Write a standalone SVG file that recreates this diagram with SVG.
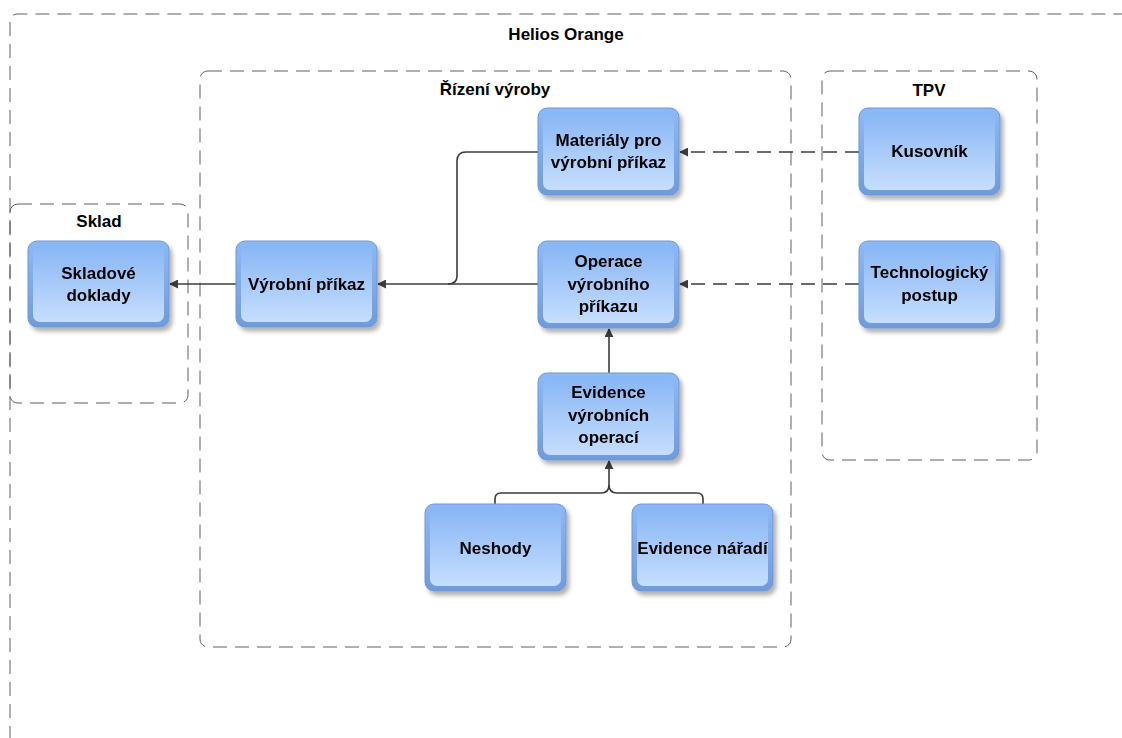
<svg xmlns="http://www.w3.org/2000/svg" width="1122" height="738" viewBox="0 0 1122 738">
<defs>
<linearGradient id="face" x1="0" y1="0" x2="0" y2="1">
<stop offset="0" stop-color="#88b6f5"/>
<stop offset="1" stop-color="#c6defd"/>
</linearGradient>
<linearGradient id="rim" x1="0" y1="0" x2="0" y2="1">
<stop offset="0" stop-color="#8dbaf6"/>
<stop offset="1" stop-color="#6f9bdb"/>
</linearGradient>
<filter id="sh" x="-10%" y="-10%" width="130%" height="140%">
<feDropShadow dx="3" dy="4" stdDeviation="2.2" flood-color="#000" flood-opacity="0.3"/>
</filter>
<marker id="ah" viewBox="0 0 10 10" refX="9" refY="5" markerWidth="9" markerHeight="9" markerUnits="userSpaceOnUse" orient="auto">
<path d="M0,0 L10,5 L0,10 z" fill="#3c3c3c"/>
</marker>
</defs>
<style>
.cont{fill:none;stroke:#606060;stroke-width:1;stroke-dasharray:14 8}
.ctitle{font-family:"Liberation Sans",Arial,sans-serif;font-weight:bold;font-size:17px;fill:#000;text-anchor:middle}
.rim{fill:url(#rim);stroke:#6e97d3;stroke-width:1}
.face{fill:url(#face)}
.lbl{font-family:"Liberation Sans",Arial,sans-serif;font-weight:bold;font-size:17px;fill:#000;text-anchor:middle}
.con{fill:none;stroke:#3c3c3c;stroke-width:1.6}
.dash{stroke-dasharray:14 8}
</style>
<rect width="1122" height="738" fill="#fff"/>

<g id="helios-orange">
<path class="cont" d="M10,740 V22 Q10,14 18,14 H1130"/>
<text class="ctitle" x="566" y="40">Helios Orange</text>
</g>
<g id="rizeni-vyroby">
<rect class="cont" x="200" y="71" width="591" height="576" rx="8"/>
<text class="ctitle" x="495" y="95">Řízení výroby</text>
</g>
<g id="sklad">
<rect class="cont" x="10" y="204" width="178" height="199" rx="8"/>
<text class="ctitle" x="99" y="227">Sklad</text>
</g>
<g id="tpv">
<rect class="cont" x="822" y="71" width="215" height="389" rx="8"/>
<text class="ctitle" x="929" y="96">TPV</text>
</g>

<g id="connectors">
<path class="con" d="M236,284 H170" marker-end="url(#ah)"/>
<path class="con" d="M538,284 H378" marker-end="url(#ah)"/>
<path class="con" d="M538,152 H466 Q457,152 457,161 V276 Q457,284 448,284"/>
<path class="con dash" d="M859,152 H680" marker-end="url(#ah)"/>
<path class="con dash" d="M859,284 H680" marker-end="url(#ah)"/>
<path class="con" d="M609,373 V329" marker-end="url(#ah)"/>
<path class="con" d="M495,504 V499 Q495,493 501,493 H601 Q609,493 609,485 V461" marker-end="url(#ah)"/>
<path class="con" d="M703,504 V499 Q703,493 697,493 H617 Q609,493 609,485"/>
</g>

<g id="skladove-doklady" filter="url(#sh)">
<rect class="rim" x="28" y="241" width="141" height="86" rx="9"/>
<rect class="face" x="33" y="245" width="131" height="77" rx="7"/>
<text class="lbl" x="98.5" y="279">Skladové</text>
<text class="lbl" x="98.5" y="301">doklady</text>
</g>
<g id="vyrobni-prikaz" filter="url(#sh)">
<rect class="rim" x="236" y="241" width="141" height="86" rx="9"/>
<rect class="face" x="241" y="245" width="131" height="77" rx="7"/>
<text class="lbl" x="306.5" y="290">Výrobní příkaz</text>
</g>
<g id="materialy" filter="url(#sh)">
<rect class="rim" x="538" y="108" width="141" height="87" rx="9"/>
<rect class="face" x="543" y="112" width="131" height="78" rx="7"/>
<text class="lbl" x="608.5" y="146">Materiály pro</text>
<text class="lbl" x="608.5" y="168">výrobní příkaz</text>
</g>
<g id="operace" filter="url(#sh)">
<rect class="rim" x="538" y="241" width="141" height="87" rx="9"/>
<rect class="face" x="543" y="245" width="131" height="78" rx="7"/>
<text class="lbl" x="608.5" y="267">Operace</text>
<text class="lbl" x="608.5" y="290">výrobního</text>
<text class="lbl" x="608.5" y="312">příkazu</text>
</g>
<g id="evidence-operaci" filter="url(#sh)">
<rect class="rim" x="538" y="373" width="141" height="87" rx="9"/>
<rect class="face" x="543" y="377" width="131" height="78" rx="7"/>
<text class="lbl" x="608.5" y="398">Evidence</text>
<text class="lbl" x="608.5" y="421">výrobních</text>
<text class="lbl" x="608.5" y="443">operací</text>
</g>
<g id="neshody" filter="url(#sh)">
<rect class="rim" x="425" y="504" width="141" height="87" rx="9"/>
<rect class="face" x="430" y="508" width="131" height="78" rx="7"/>
<text class="lbl" x="495.5" y="554">Neshody</text>
</g>
<g id="evidence-naradi" filter="url(#sh)">
<rect class="rim" x="632" y="504" width="141" height="87" rx="9"/>
<rect class="face" x="637" y="508" width="131" height="78" rx="7"/>
<text class="lbl" x="702.5" y="554">Evidence nářadí</text>
</g>
<g id="kusovnik" filter="url(#sh)">
<rect class="rim" x="859" y="108" width="141" height="87" rx="9"/>
<rect class="face" x="864" y="112" width="131" height="78" rx="7"/>
<text class="lbl" x="929.5" y="157">Kusovník</text>
</g>
<g id="technologicky-postup" filter="url(#sh)">
<rect class="rim" x="859" y="241" width="141" height="87" rx="9"/>
<rect class="face" x="864" y="245" width="131" height="78" rx="7"/>
<text class="lbl" x="929.5" y="278">Technologický</text>
<text class="lbl" x="929.5" y="301">postup</text>
</g>
</svg>
